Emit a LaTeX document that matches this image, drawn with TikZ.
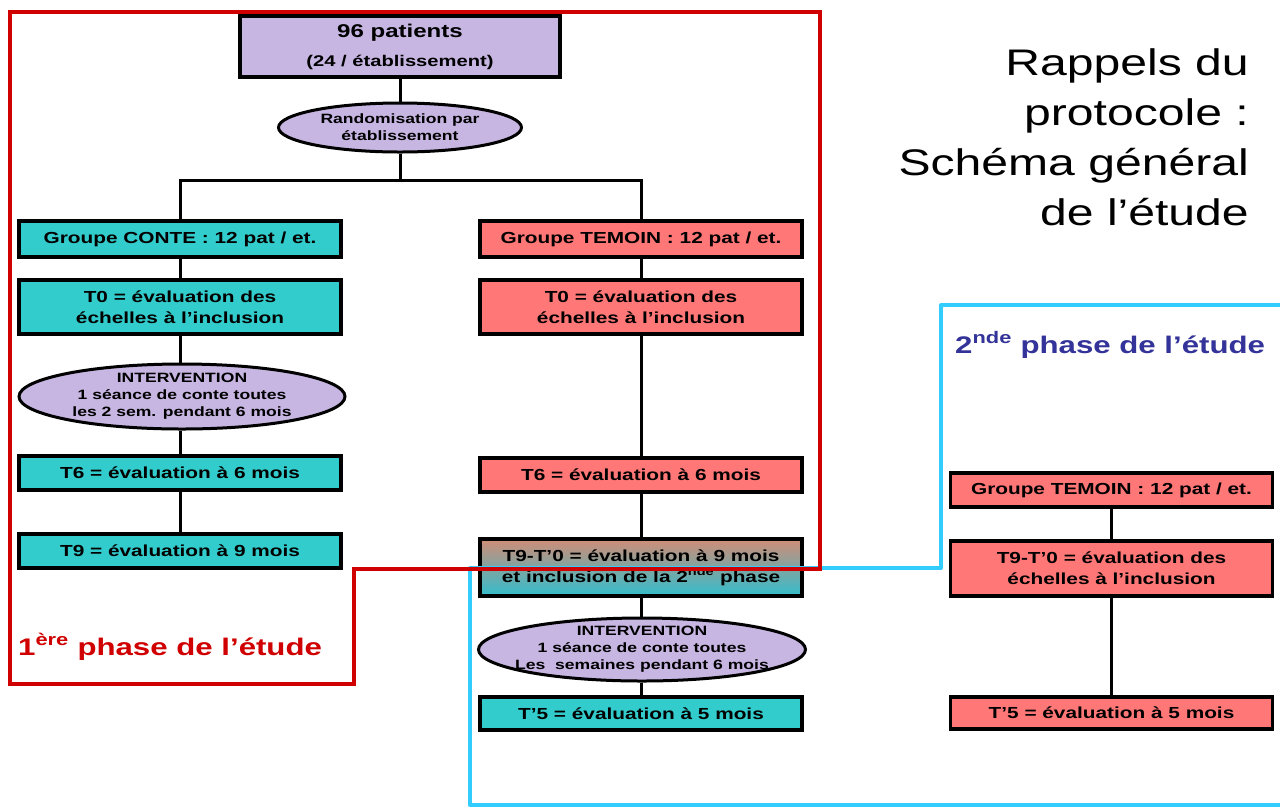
\documentclass[tikz,border=0pt]{standalone}
\usepackage{fontspec}
\setmainfont{Liberation Sans}[FakeStretch=1.3]
\usetikzlibrary{shapes.geometric}
\definecolor{lav}{RGB}{199,181,226}
\definecolor{tealc}{RGB}{51,204,204}
\definecolor{salm}{RGB}{255,119,119}
\definecolor{redb}{RGB}{208,0,0}
\definecolor{blueb}{RGB}{51,204,255}
\definecolor{bluet}{RGB}{51,51,153}
\definecolor{gradtop}{RGB}{208,140,118}
\definecolor{gradbot}{RGB}{50,190,205}
\begin{document}
\begin{tikzpicture}[x=1pt,y=-1pt,
  boxbase/.style={draw=black, line width=3.2pt, rectangle, inner sep=0pt, align=center,
    minimum width=322pt, font=\bfseries\fontsize{16}{21}\selectfont, text=black},
  tealbox/.style={boxbase, fill=tealc},
  salmbox/.style={boxbase, fill=salm},
  ellbox/.style={draw=black, line width=3pt, ellipse, fill=lav, inner sep=0pt},
  elltext/.style={align=center, inner sep=0pt, font=\bfseries\fontsize{13.5}{17}\selectfont},
  conn/.style={draw=black, line width=3pt},
  redline/.style={draw=redb, line width=4pt, line join=miter},
  blueline/.style={draw=blueb, line width=4pt, line join=round},
  titletext/.style={anchor=base east, inner sep=0pt, font=\fontsize{37}{50}\selectfont}
]
\useasboundingbox (0,0) rectangle (1280,807);
\fill[white] (0,0) rectangle (1280,807);

% top
\node[boxbase, fill=lav, minimum width=320pt, minimum height=61pt] (pat) at (400,46.5)
  {\fontsize{18.5}{22}\selectfont 96 patients\\[8pt]\fontsize{15.5}{22}\selectfont (24 / établissement)};
\node[ellbox, minimum width=243pt, minimum height=49pt] (rand) at (400,127.5) {};
\node[elltext] (randt) at (rand.center) {Randomisation par\\établissement};

\coordinate (jm) at (400,180);
\coordinate (jl) at (180,180);
\coordinate (jr) at (641,180);

% left column
\node[tealbox, minimum height=36pt] (gc) at (180,239) {Groupe CONTE : 12 pat / et.};
\node[tealbox, minimum height=54pt] (t0l) at (180,307) {T0 = évaluation des\\échelles à l’inclusion};
\node[ellbox, minimum width=326pt, minimum height=65pt] (e1) at (182,396.5) {};
\node[elltext] (e1t) at (e1.center) {INTERVENTION\\1 séance de conte toutes\\les 2 sem. pendant 6 mois};
\node[tealbox, minimum height=34pt] (t6l) at (180,473) {T6 = évaluation à 6 mois};
\node[tealbox, minimum height=34pt] (t9l) at (180,551) {T9 = évaluation à 9 mois};

% right column
\node[salmbox, minimum height=36pt] (gt) at (641,239) {Groupe TEMOIN : 12 pat / et.};
\node[salmbox, minimum height=54pt] (t0r) at (641,307) {T0 = évaluation des\\échelles à l’inclusion};
\node[salmbox, minimum height=34pt] (t6r) at (641,475) {T6 = évaluation à 6 mois};
\node[boxbase, top color=gradtop, bottom color=gradbot, minimum height=57pt] (t9r) at (641,567.5)
  {T9-T’0 = évaluation à 9 mois\\et inclusion de la 2\textsuperscript{nde} phase};
\node[ellbox, minimum width=327pt, minimum height=63pt] (e2) at (642,649.5) {};
\node[elltext] (e2t) at (e2.center) {INTERVENTION\\1 séance de conte toutes\\Les\ \ semaines pendant 6 mois};
\node[tealbox, minimum height=33pt] (t5r) at (641,713.5) {T’5 = évaluation à 5 mois};

% third column
\node[salmbox, minimum height=34pt] (g3) at (1111.5,490) {Groupe TEMOIN : 12 pat / et.};
\node[salmbox, minimum height=55pt] (t93) at (1111.5,568.5) {T9-T’0 = évaluation des\\échelles à l’inclusion};
\node[salmbox, minimum height=32pt] (t53) at (1111.5,713) {T’5 = évaluation à 5 mois};

% connectors
\draw[conn] (pat) -- (rand);
\draw[conn] (rand) -- (jm);
\draw[conn] (gc.north) -- (jl) -- (jr) -- (gt.north);
\draw[conn] (gc) -- (t0l);
\draw[conn] (t0l.south) -- (e1.north -| t0l.south);
\draw[conn] (e1.south -| t6l.north) -- (t6l.north);
\draw[conn] (t6l) -- (t9l);
\draw[conn] (gt) -- (t0r);
\draw[conn] (t0r) -- (t6r);
\draw[conn] (t6r) -- (t9r);
\draw[conn] (t9r.south) -- (e2.north -| t9r.south);
\draw[conn] (e2.south -| t5r.north) -- (t5r.north);
\draw[conn] (g3) -- (t93);
\draw[conn] (t93) -- (t53);

% phase frames
\draw[blueline] (1284,305) -- (941,305) -- (941,568) -- (470,568) -- (470,805) -- (1284,805);
\draw[redline] (10,12) -- (820,12) -- (820,568.5) -- (354,568.5) -- (354,684) -- (10,684) -- cycle;

% phase labels
\node[anchor=base west, inner sep=0pt, text=redb, font=\bfseries\fontsize{24}{28}\selectfont] (ph1) at (18,655)
  {1\textsuperscript{ère} phase de l’étude};
\node[anchor=base west, inner sep=0pt, text=bluet, font=\bfseries\fontsize{24}{28}\selectfont] (ph2) at (955,353)
  {2\textsuperscript{nde} phase de l’étude};

% title
\node[titletext] (ti1) at (1249,75) {Rappels du};
\node[titletext] (ti2) at (1249,125) {protocole :};
\node[titletext] (ti3) at (1249,175) {Schéma général};
\node[titletext] (ti4) at (1249,225) {de l’étude};
\end{tikzpicture}
\end{document}
